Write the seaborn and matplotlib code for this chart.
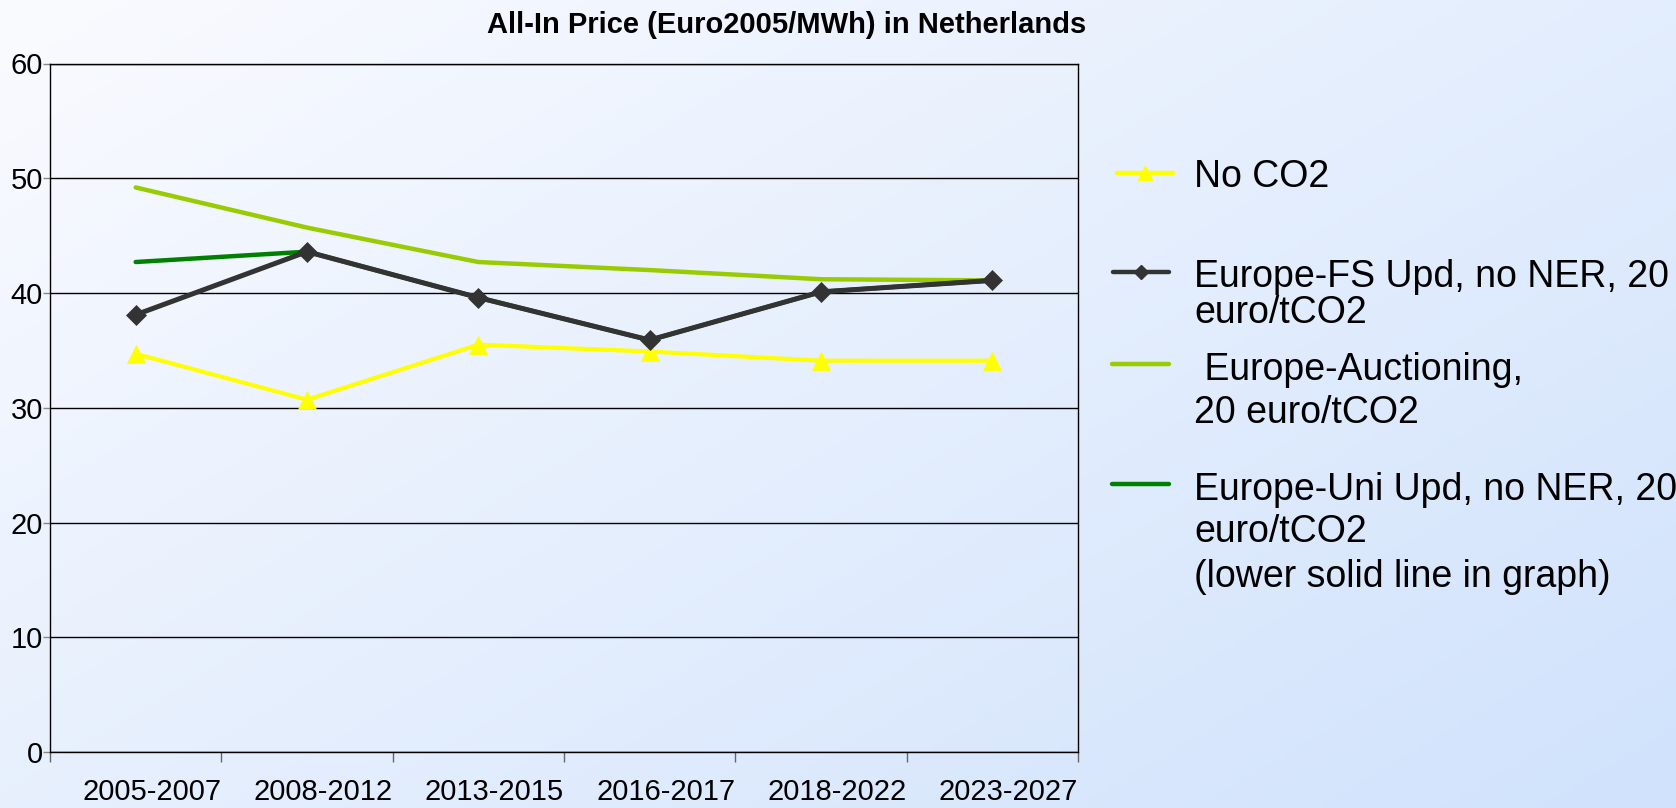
import numpy as np
import pandas as pd
import matplotlib
matplotlib.use("Agg")
import matplotlib.pyplot as plt
import seaborn as sns
from matplotlib.lines import Line2D

# ---------------- data ----------------
periods = ["2005-2007", "2008-2012", "2013-2015", "2016-2017", "2018-2022", "2023-2027"]
no_co2 = [34.7, 30.7, 35.5, 34.9, 34.1, 34.1]
fs_upd = [38.1, 43.6, 39.6, 35.9, 40.1, 41.1]
auctioning = [49.2, 45.7, 42.7, 42.0, 41.2, 41.1]
uni_upd = [42.7, 43.6, 39.6, 35.9, 40.1, 41.1]
y_ticks = [0, 10, 20, 30, 40, 50, 60]
title = "All-In Price (Euro2005/MWh) in Netherlands"

legend_labels = [
    ["No CO2"],
    ["Europe-FS Upd, no NER, 20", "euro/tCO2"],
    [" Europe-Auctioning,", "20 euro/tCO2"],
    ["Europe-Uni Upd, no NER, 20", "euro/tCO2", "(lower solid line in graph)"],
]

# ---------------- style ----------------
sns.set_style("white")
plt.rcParams["font.family"] = ["Liberation Sans", "DejaVu Sans"]
plt.rcParams["text.color"] = "black"
plt.rcParams["xtick.color"] = "black"
plt.rcParams["ytick.color"] = "black"

W, H = 1676, 808
fig = plt.figure(figsize=(W / 100, H / 100), dpi=100)

# gradient background
bg = fig.add_axes([0, 0, 1, 1], zorder=-10)
yy, xx = np.mgrid[0:H:4, 0:W:4]
t = (xx / W * 0.55 + yy / H * 0.45)
t = np.clip(t, 0, 1)
c0 = np.array([250, 251, 255]) / 255
c1 = np.array([208, 226, 252]) / 255
img = c0[None, None, :] * (1 - t[..., None]) + c1[None, None, :] * t[..., None]
bg.imshow(img, extent=[0, 1, 0, 1], aspect="auto", origin="upper")
bg.axis("off")

# main axes
left, right, top, bottom = 50, 1078, 63.5, 752
ax = fig.add_axes([left / W, 1 - bottom / H, (right - left) / W, (bottom - top) / H])
ax.set_facecolor("none")

series = [
    (auctioning, "#99CC00", None, 0, 3.2),
    (uni_upd, "#008000", None, 0, 3.2),
    (no_co2, "#FFFF00", "^", 13.5, 3.0),
    (fs_upd, "#333333", "D", 10.0, 3.6),
]
for vals, col, mk, ms, lw in series:
    df = pd.DataFrame({"period": periods, "value": vals})
    kw = dict(marker=mk, markersize=ms, markeredgecolor=col, markerfacecolor=col, markeredgewidth=0.5) if mk else {}
    sns.lineplot(data=df, x="period", y="value", sort=False, color=col, lw=lw, ax=ax, **kw)

ax.set_xlim(-0.5, 5.5)
ax.set_ylim(0, 60)
ax.set_yticks(y_ticks)
n = len(periods)
ax.xaxis.remove_overlapping_locs = False
ax.set_xticks(np.arange(n) + 0.5)
ax.set_xticklabels(periods, ha="right")
ax.set_xticks(np.arange(-0.5, n, 1.0), minor=True)
ax.set_xlabel("")
ax.set_ylabel("")
ax.yaxis.grid(True, color="black", lw=1.0)
ax.xaxis.grid(False)
ax.set_axisbelow(True)
for s in ax.spines.values():
    s.set_visible(True)
    s.set_color("black")
    s.set_linewidth(1.0)
ax.tick_params(axis="x", which="major", length=0, pad=19, labelsize=21, bottom=True, labelcolor="black")
ax.tick_params(axis="x", which="minor", length=7, width=1, color="#666666", bottom=True)
ax.tick_params(axis="y", length=5, width=1, color="#888888", pad=0, labelsize=21, left=True, labelcolor="black")

# title
fig.text(787 / W, 1 - 33 / H, title, ha="center", va="baseline", fontsize=21, fontweight="bold")

# legend (drawn manually)
entries = [
    ("#FFFF00", "^", 10, 1117, 1173, 173, [186.7], 1194),
    ("#333333", "D", 7.5, 1113, 1169, 271.7, [286.7, 323.3], 1194),
    ("#99CC00", None, 0, 1112, 1169, 364.3, [380, 423.3], 1194),
    ("#008000", None, 0, 1112, 1169, 484.3, [500, 541.7, 586.7], 1194),
]
for (col, mk, ms, x0, x1, yh, baselines, xt), labs in zip(entries, legend_labels):
    xm = (x0 + x1) / 2
    ln = Line2D([x0 / W, xm / W, x1 / W], [1 - yh / H] * 3, transform=fig.transFigure,
                color=col, lw=3.2, marker=mk if mk else None, markersize=ms,
                markevery=[1], markerfacecolor=col, markeredgecolor=col)
    fig.add_artist(ln)
    for b, lab in zip(baselines, labs):
        fig.text(xt / W, 1 - b / H, lab, ha="left", va="baseline", fontsize=27)

fig.savefig("out.png", dpi=100)
